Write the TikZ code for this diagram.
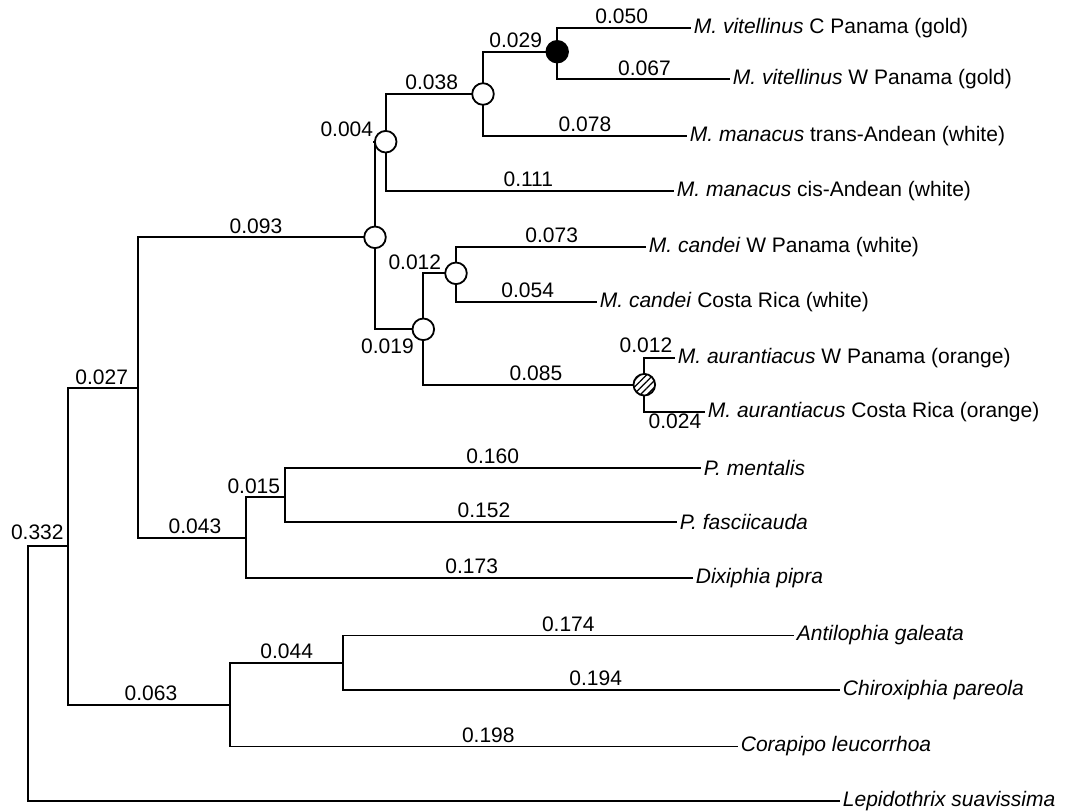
\documentclass[tikz,border=0pt]{standalone}
\usepackage{fontspec}
\setmainfont{Liberation Sans}
\usetikzlibrary{patterns.meta}

\begin{document}
\begin{tikzpicture}[x=0.5pt, y=-0.5pt, line width=0.9pt, line cap=rect,
		every node/.style={font=\fontsize{10.5}{12}\selectfont},
		inode/.style={circle, draw, fill=white, minimum size=10.8pt, inner sep=0pt},
		goldnode/.style={inode, fill=black},
		hatchnode/.style={inode, preaction={fill=white}, pattern={Lines[angle=45, distance=2.4pt, line width=0.6pt]}},
		taxon/.style={anchor=west, inner sep=1.5pt},
		blen/.style={anchor=south, inner sep=1.5pt}]
		\useasboundingbox (0,0) rectangle (1065,811);
		%%%%%%%%%%%%%
		\coordinate (root) at (28.3,546);
		\coordinate (c332) at (68.3,546);
		\coordinate (c027) at (137.7,388.3);
		\coordinate (c043) at (246,537.7);
		\coordinate (c015) at (285,496.7);
		\coordinate (c063) at (230,705);
		\coordinate (c044) at (343.3,662.7);
		\node[inode] (n093) at (375,237.3) {};
		\node[inode] (n004) at (385.7,141.7) {};
		\node[inode] (n038) at (483,94) {};
		\node[goldnode] (n029) at (557.2,51.7) {};
		\node[inode] (n019) at (423.3,329.3) {};
		\node[inode] (n012) at (456,273.3) {};
		\node[hatchnode] (n085) at (644.3,384.7) {};
		%%%%%%%%%%%%%
		\node[taxon] (vitC) at (690,27.7) {\textit{M. vitellinus} C Panama (gold)};
		\node[taxon] (vitW) at (729,79.3) {\textit{M. vitellinus} W Panama (gold)};
		\node[taxon] (manT) at (686,136) {\textit{M. manacus} trans-Andean (white)};
		\node[taxon] (manC) at (673,190.7) {\textit{M. manacus} cis-Andean (white)};
		\node[taxon] (canW) at (645,246.7) {\textit{M. candei} W Panama (white)};
		\node[taxon] (canC) at (596,301.7) {\textit{M. candei} Costa Rica (white)};
		\node[taxon] (aurW) at (674,357.7) {\textit{M. aurantiacus} W Panama (orange)};
		\node[taxon] (aurC) at (704,411.7) {\textit{M. aurantiacus} Costa Rica (orange)};
		\node[taxon] (ment) at (700,467.7) {\textit{P. mentalis}};
		\node[taxon] (fasc) at (676,522) {\textit{P. fasciicauda}};
		\node[taxon] (dixi) at (692,578) {\textit{Dixiphia pipra}};
		\node[taxon] (anti) at (793,635.5) {\textit{Antilophia galeata}};
		\node[taxon] (chir) at (839,690) {\textit{Chiroxiphia pareola}};
		\node[taxon] (cora) at (737,746.5) {\textit{Corapipo leucorrhoa}};
		\node[taxon] (lepi) at (839,801.2) {\textit{Lepidothrix suavissima}};
		%%%%%%%%%%%%%
		\draw (n029) |- (vitC); \draw (n029) |- (vitW);
		\draw (n038) |- (n029); \draw (n038) |- (manT);
		\draw (n004) |- (n038); \draw (n004) |- (manC);
		\draw (n093) |- (n004); \draw (n093) |- (n019);
		\draw (n019) |- (n012); \draw (n019) |- (n085);
		\draw (n012) |- (canW); \draw (n012) |- (canC);
		\draw (n085) |- (aurW); \draw (n085) |- (aurC);
		\draw (c027) |- (n093); \draw (c027) |- (c043);
		\draw (c043) |- (c015); \draw (c043) |- (dixi);
		\draw (c015) |- (ment); \draw (c015) |- (fasc);
		\draw (c332) |- (c027); \draw (c332) |- (c063);
		\draw (c063) |- (c044); \draw (c063) |- (cora);
		\draw (c044) |- (anti); \draw (c044) |- (chir);
		\draw (c332) -- (root) |- (lepi);
		%%%%%%%%%%%%%
		\node[blen] (l050) at (621.7,27.7) {0.050};
		\node[blen] (l067) at (644.5,79.3) {0.067};
		\node[blen] (l029) at (515.7,51.7) {0.029};
		\node[blen] (l038) at (431.7,94) {0.038};
		\node[blen] (l078) at (585,136) {0.078};
		\node[blen] (l111) at (528.3,190.7) {0.111};
		\node[anchor=east, inner sep=1.5pt] (l004) at (377,129) {0.004};
		\node[blen] (l093) at (256,237.3) {0.093};
		\node[blen] (l073) at (551.7,246.7) {0.073};
		\node[blen] (l054) at (527.7,301.7) {0.054};
		\node[anchor=east, inner sep=1.5pt] (l012a) at (445,262.7) {0.012};
		\node (l019) at (387.5,346.7) {0.019};
		\node[blen] (l085) at (536,384.7) {0.085};
		\node (l012b) at (646,345) {0.012};
		\node (l024) at (675,421.7) {0.024};
		\node[blen] (l027) at (101.7,388.3) {0.027};
		\node[blen] (l043) at (195,537.7) {0.043};
		\node (l015) at (253.8,486) {0.015};
		\node (l332) at (37.3,532.3) {0.332};
		\node[blen] (l160) at (492.7,467.7) {0.160};
		\node[blen] (l152) at (484,522) {0.152};
		\node[blen] (l173) at (471.7,578) {0.173};
		\node[blen] (l174) at (568.3,635.5) {0.174};
		\node[blen] (l194) at (595.7,690) {0.194};
		\node[blen] (l198) at (488.3,746.5) {0.198};
		\node[blen] (l063) at (151,705) {0.063};
		\node[blen] (l044) at (286.7,662.7) {0.044};
\end{tikzpicture}
\end{document}
